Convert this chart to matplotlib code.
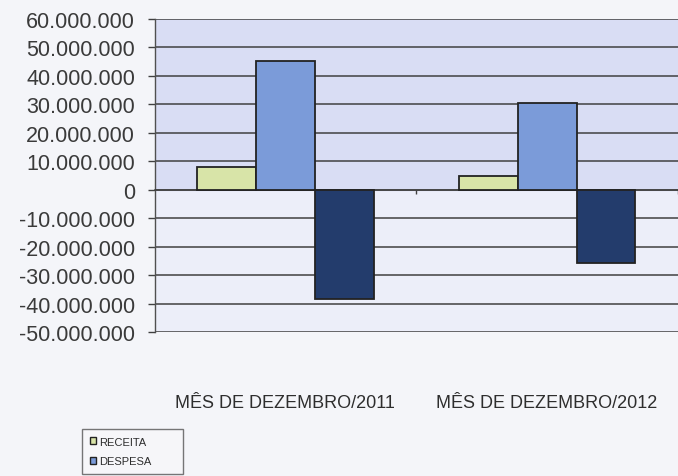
import matplotlib.pyplot as plt
import numpy as np
from matplotlib.ticker import FuncFormatter, MultipleLocator
from matplotlib.patches import Patch

# values
categories = ['MÊS DE DEZEMBRO/2011', 'MÊS DE DEZEMBRO/2012']
receita = [8_000_000, 5_000_000]
despesa = [45_400_000, 30_600_000]
resultado = [-38_300_000, -25_900_000]   # third series, legend entry is cut off in the scan

series_names = ['RECEITA', 'DESPESA']
colors = ['#d8e4a8', '#7b9bd9', '#233c6c']

plt.rcParams['font.family'] = ['Liberation Sans', 'DejaVu Sans']


def fmt_br(v, pos):
    # Brazilian thousands separator
    s = f"{abs(int(round(v))):,}".replace(',', '.')
    return ('-' if v < 0 else '') + s


fig = plt.figure(figsize=(6.78, 4.77), dpi=100)
fig.patch.set_facecolor('#f4f5f9')
ax = fig.add_axes([154.5 / 678, 1 - 333 / 477, 1 - 154.5 / 678, (333 - 20) / 477])

ymin, ymax = -50_000_000, 60_000_000
ax.set_ylim(ymin, ymax)
ax.set_xlim(-0.5, -0.5 + (678 - 154.5) / 267)

# plot area: bluish above zero, paler below
ax.set_facecolor('#eceef9')
ax.axhspan(0, ymax, color='#d9ddf4', zorder=0)

x = np.arange(len(categories))
w = 0.225
edge = dict(edgecolor='#222222', linewidth=1.3, zorder=3)
ax.bar(x - w, receita, w, color=colors[0], label=series_names[0], **edge)
ax.bar(x, despesa, w, color=colors[1], label=series_names[1], **edge)
ax.bar(x + w, resultado, w, color=colors[2], **edge)

# gridlines
ax.yaxis.set_major_locator(MultipleLocator(10_000_000))
ax.yaxis.set_major_formatter(FuncFormatter(fmt_br))
ax.grid(axis='y', color='#404040', linewidth=1.1, zorder=1)
ax.set_axisbelow(True)

# spines: left axis and category axis at zero
for s in ['top', 'right']:
    ax.spines[s].set_visible(False)
ax.spines['left'].set_color('#505050')
ax.spines['left'].set_linewidth(1.0)
ax.spines['bottom'].set_position(('data', 0))
ax.spines['bottom'].set_color('#404040')
ax.spines['bottom'].set_linewidth(1.1)

ax.tick_params(axis='y', length=5, width=1.0, color='#404040', pad=9,
               labelsize=15.5, labelcolor='#3a3a3a')

ax.set_xticks(x)
ax.set_xticklabels(categories)
ax.set_xticks(x + 0.5, minor=True)
ax.tick_params(axis='x', which='major', length=0, pad=147,
               labelsize=13, labelcolor='#2e2e2e')
ax.tick_params(axis='x', which='minor', length=3, width=1.0, color='#404040',
               direction='out')

handles = [Patch(facecolor=colors[0], edgecolor='#222222', label=series_names[0]),
           Patch(facecolor=colors[1], edgecolor='#222222', label=series_names[1])]
leg = fig.legend(handles=handles, loc='upper left', mode='expand',
                 bbox_to_anchor=(82 / 678, 1 - 430 / 477, 101 / 678, 0),
                 fontsize=8, frameon=True, fancybox=False,
                 handlelength=0.6, handleheight=0.6, handletextpad=0.2,
                 borderpad=0.7, labelspacing=0.85, borderaxespad=0)
leg.get_frame().set_edgecolor('#555555')
leg.get_frame().set_linewidth(1.0)
leg.get_frame().set_facecolor('#f7f7fa')
for t in leg.get_texts():
    t.set_color('#2e2e2e')

fig.savefig('out.png', dpi=100, facecolor=fig.get_facecolor())
